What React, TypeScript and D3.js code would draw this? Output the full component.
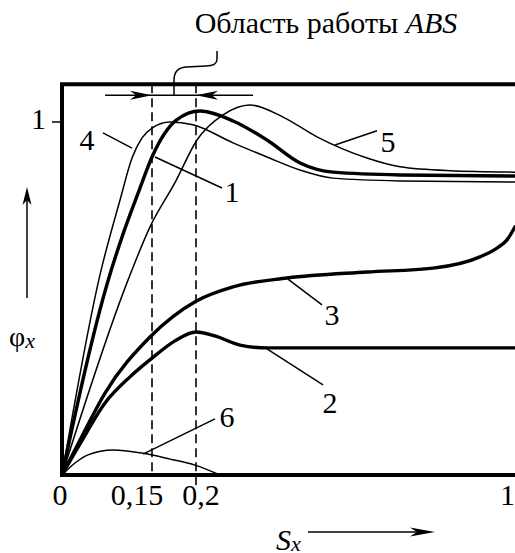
import React from "react";
import * as d3 from "d3";

// Slip ratio axis (schematic, non-uniform) and its tick labels
const S_TICKS = [0, 0.15, 0.2, 1];
const S_TICK_LABELS = ["0", "0,15", "0,2", "1"];
const PHI_TICKS = [1];
const PHI_TICK_LABELS = ["1"];

// Adhesion coefficient curves φx(Sx)
const curve1S = [0, 0.077, 0.1, 0.127, 0.15, 0.178, 0.21, 0.293, 0.378, 0.461, 0.544, 0.712, 1.0];
const curve1Phi = [0, 0.552, 0.674, 0.799, 0.901, 1.006, 1.031, 1.003, 0.949, 0.884, 0.858, 0.85, 0.847];

const curve2S = [0, 0.03, 0.0717, 0.1133, 0.15, 0.1761, 0.2, 0.2476, 0.3103, 0.378, 1.0];
const curve2Phi = [0, 0.088, 0.204, 0.278, 0.331, 0.38, 0.405, 0.394, 0.368, 0.36, 0.36];

const curve3S = [0, 0.0333, 0.0717, 0.1467, 0.2011, 0.2928, 0.4282, 0.6288, 0.7944, 0.9122, 0.9549, 0.98, 1.0];
const curve3Phi = [0, 0.11, 0.232, 0.391, 0.493, 0.533, 0.558, 0.575, 0.586, 0.618, 0.643, 0.666, 0.703];

const curve4S = [0, 0.0633, 0.0967, 0.1167, 0.1334, 0.15, 0.1705, 0.1966, 0.2928, 0.378, 0.4608, 0.5436, 0.7116, 1.0];
const curve4Phi = [0, 0.567, 0.779, 0.898, 0.955, 0.983, 1.0, 0.992, 0.941, 0.901, 0.864, 0.841, 0.833, 0.83];

const curve5S = [0, 0.11, 0.1467, 0.1761, 0.2025, 0.2677, 0.3354, 0.4182, 0.5034, 0.6288, 0.7116, 0.837, 1.0];
const curve5Phi = [0, 0.552, 0.703, 0.828, 0.949, 1.02, 1.048, 1.014, 0.958, 0.898, 0.873, 0.862, 0.858];

const curve6S = [0, 0.0217, 0.0433, 0.085, 0.1333, 0.1705, 0.1989, 0.2602];
const curve6Phi = [0, 0.034, 0.057, 0.071, 0.062, 0.045, 0.028, 0];

const CURVE_NAMES = ["1", "2", "3", "4", "5", "6"];
const CURVE_S = [curve1S, curve2S, curve3S, curve4S, curve5S, curve6S];
const CURVE_PHI = [curve1Phi, curve2Phi, curve3Phi, curve4Phi, curve5Phi, curve6Phi];

// Callouts: leader start (on curve), leader end, label anchor — in (Sx, φx)
const LEADER_FROM = [[0.1534, 0.901], [0.378, 0.357], [0.4307, 0.555], [0.0683, 0.969], [0.5486, 0.935], [0.135, 0.059]];
const LEADER_TO = [[0.2652, 0.813], [0.5185, 0.255], [0.516, 0.482], [0.1167, 0.926], [0.6539, 0.975], [0.2476, 0.159]];
const LABEL_AT = [[0.2903, 0.773], [0.5361, 0.176], [0.5411, 0.425], [0.0417, 0.921], [0.6815, 0.915], [0.2778, 0.136]];

// ABS working range
const ABS_RANGE = [0.15, 0.2];
const ABS_TITLE = "Область работы ";
const ABS_TITLE_ITALIC = "ABS";

const W = 515;
const H = 553;
const FONT = "Liberation Serif";
const THICK = [true, true, true, false, false, false];
const S_LABEL_DX = [-2, -15, 5, 0];
const S_LABEL_ANCHOR = ["middle", "middle", "middle", "end"];

export default function App() {
  const x = d3.scaleLinear().domain([0, 0.15, 0.2, 1]).range([62, 152, 196, 515]);
  const y = d3.scaleLinear().domain([0, 1]).range([475, 122]);
  const phiTop = 1.107;

  const line = d3
    .line<[number, number]>()
    .x((d) => x(d[0]))
    .y((d) => y(d[1]))
    .curve(d3.curveMonotoneX);

  const x0 = x(0);
  const x1 = x(1);
  const y0 = y(0);
  const yT = y(phiTop);
  const yArrow = y(1.076);

  // narrow barbed arrowhead with tip at (tx, ty), pointing along angle (radians)
  const arrowHead = (tx: number, ty: number, ang: number, len = 22, half = 4.5) => {
    const c = Math.cos(ang);
    const s = Math.sin(ang);
    const p = (u: number, v: number) => [tx + u * c - v * s, ty + u * s + v * c];
    const a = p(-len, -half);
    const b = p(-len * 0.72, 0);
    const d = p(-len, half);
    return `M${tx},${ty}L${a[0]},${a[1]}L${b[0]},${b[1]}L${d[0]},${d[1]}Z`;
  };

  const xa = x(ABS_RANGE[0]);
  const xb = x(ABS_RANGE[1]);

  return (
    <svg width={W} height={H} style={{ position: "absolute", left: 0, top: 0 }}>
      <rect width={W} height={H} fill="#fff" />

      {/* frame */}
      <path
        d={`M${x1 + 2},${yT}H${x0}V${y0}H${x1 + 2}`}
        fill="none"
        stroke="#000"
        strokeWidth={4}
        strokeLinejoin="miter"
      />

      {/* dashed ABS bounds */}
      {ABS_RANGE.map((v, i) => (
        <line
          key={`d${i}`}
          x1={x(v)}
          x2={x(v)}
          y1={yT}
          y2={i === 1 ? y0 + 10 : y0}
          stroke="#000"
          strokeWidth={1.6}
          strokeDasharray="9,5"
        />
      ))}

      {/* ABS range arrows */}
      <line x1={x(0.0717)} x2={xa} y1={yArrow} y2={yArrow} stroke="#000" strokeWidth={1.5} />
      <line x1={xa} x2={xb} y1={yArrow} y2={yArrow} stroke="#000" strokeWidth={1.5} />
      <line x1={xb} x2={x(0.343)} y1={yArrow} y2={yArrow} stroke="#000" strokeWidth={1.5} />
      <path d={arrowHead(xa, yArrow, 0)} fill="#000" />
      <path d={arrowHead(xb, yArrow, Math.PI)} fill="#000" />
      <path
        d={`M217,51V59Q217,66 206,66L186,67Q174,68 174,80V${yArrow}`}
        fill="none"
        stroke="#000"
        strokeWidth={1.5}
      />
      <text x={326} y={33} fontFamily={FONT} fontSize={30} textAnchor="middle" fill="#000">
        {ABS_TITLE}
        <tspan fontStyle="italic">{ABS_TITLE_ITALIC}</tspan>
      </text>

      {/* curves */}
      {CURVE_S.map((sArr, i) => (
        <path
          key={`c${i}`}
          d={line(sArr.map((s, j) => [s, CURVE_PHI[i][j]] as [number, number])) || ""}
          fill="none"
          stroke="#000"
          strokeWidth={THICK[i] ? 3.4 : 1.5}
          strokeLinecap="round"
        />
      ))}

      {/* callouts */}
      {CURVE_NAMES.map((name, i) => (
        <g key={`l${i}`}>
          <line
            x1={x(LEADER_FROM[i][0])}
            y1={y(LEADER_FROM[i][1])}
            x2={x(LEADER_TO[i][0])}
            y2={y(LEADER_TO[i][1])}
            stroke="#000"
            strokeWidth={1.5}
          />
          <text
            x={x(LABEL_AT[i][0])}
            y={y(LABEL_AT[i][1])}
            fontFamily={FONT}
            fontSize={30}
            textAnchor="middle"
            fill="#000"
          >
            {name}
          </text>
        </g>
      ))}

      {/* x ticks */}
      {S_TICKS.map((v, i) => (
        <text
          key={`xt${i}`}
          x={x(v) + S_LABEL_DX[i]}
          y={y0 + 30}
          fontFamily={FONT}
          fontSize={30}
          textAnchor={S_LABEL_ANCHOR[i]}
          fill="#000"
        >
          {S_TICK_LABELS[i]}
        </text>
      ))}

      {/* y ticks */}
      {PHI_TICKS.map((v, i) => (
        <g key={`yt${i}`}>
          <line x1={x0 - 10} x2={x0} y1={y(v)} y2={y(v)} stroke="#000" strokeWidth={1.5} />
          <text x={x0 - 16} y={y(v) + 7} fontFamily={FONT} fontSize={30} textAnchor="end" fill="#000">
            {PHI_TICK_LABELS[i]}
          </text>
        </g>
      ))}

      {/* axis titles with direction arrows */}
      <line x1={27} x2={27} y1={298} y2={200} stroke="#000" strokeWidth={1.5} />
      <path d={arrowHead(27, 187, -Math.PI / 2, 18, 4.5)} fill="#000" />
      <text x={9} y={346} fontFamily={FONT} fontSize={28} fill="#000">
        φ<tspan fontStyle="italic" fontSize={22} dy={2}>x</tspan>
      </text>

      <line x1={308} x2={425} y1={532} y2={532} stroke="#000" strokeWidth={1.5} />
      <path d={arrowHead(435, 532, 0, 25, 4.5)} fill="#000" />
      <text x={276} y={550} fontFamily={FONT} fontSize={30} fontStyle="italic" fill="#000">
        S<tspan fontSize={22} dy={1}>x</tspan>
      </text>
    </svg>
  );
}
